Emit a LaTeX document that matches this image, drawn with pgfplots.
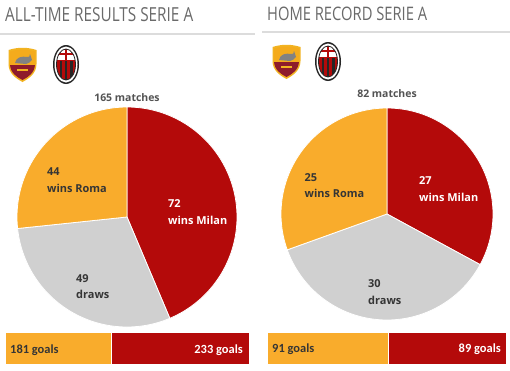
\documentclass[border=0pt]{standalone}
\usepackage{pgfplots}
\pgfplotsset{compat=1.18}
\usepgfplotslibrary{polar}
\usepackage{graphicx}
\usepackage{fontspec}
\setmainfont{Open Sans}
\newfontfamily\goalsfont{Carlito}
\definecolor{roma}{HTML}{F9AC2C}
\definecolor{milan}{HTML}{B40A0A}
\definecolor{drawgray}{HTML}{D0D0D0}
\definecolor{txt}{HTML}{353535}
\definecolor{titlegray}{HTML}{6A6A6A}
\definecolor{rulegray}{HTML}{DCDCDC}
\definecolor{romared}{HTML}{8E1B2B}
\definecolor{romagold}{HTML}{F2B321}

% ---- data ----
\def\AMilan{72}\def\ADraws{49}\def\ARoma{44}
\def\HMilan{27}\def\HDraws{30}\def\HRoma{25}
\def\AGRoma{181}\def\AGMilan{233}
\def\HGRoma{91}\def\HGMilan{89}

\pgfmathsetmacro\ATot{\AMilan+\ADraws+\ARoma}
\pgfmathsetmacro\Aa{90-\AMilan/\ATot*360}
\pgfmathsetmacro\Ab{\Aa-\ADraws/\ATot*360}
\pgfmathsetmacro\HTot{\HMilan+\HDraws+\HRoma}
\pgfmathsetmacro\Ha{90-\HMilan/\HTot*360}
\pgfmathsetmacro\Hb{\Ha-\HDraws/\HTot*360}
\pgfmathsetmacro\AGTot{\AGRoma+\AGMilan}
\pgfmathsetmacro\HGTot{\HGRoma+\HGMilan}

\newcommand\romalogo[2]{%
\begin{scope}[shift={(#1,#2)}]
\fill[romagold] (0.5,3) .. controls (10,0) and (19,0) .. (28.5,3) -- (28.5,17) .. controls (28.5,27) and (20,32) .. (14.5,35) .. controls (9,32) and (0.5,27) .. (0.5,17) -- cycle;
\begin{scope}
\clip (2,4.5) .. controls (10,2) and (19,2) .. (27,4.5) -- (27,17) .. controls (27,26) and (19.5,30.5) .. (14.5,33) .. controls (9.5,30.5) and (2,26) .. (2,17) -- cycle;
\fill[romagold!85!orange] (0,0) rectangle (29,18);
\fill[romared] (0,18) rectangle (29,36);
\fill[gray!60!black!70] (7,16) .. controls (8,10) and (14,9) .. (19,10) .. controls (21,11) and (22,9) .. (22,7) -- (24,13) .. controls (22,15) and (20,17) .. (18,17) -- cycle;
\fill[romagold] (9,21.5) rectangle (20,23.5);
\end{scope}
\end{scope}}

\newcommand\milanlogo[2]{%
\begin{scope}[shift={(#1,#2)}]
\fill[black!85] (13,19.5) ellipse [x radius=13, y radius=19.5];
\fill[white] (13,19.5) ellipse [x radius=11.5, y radius=18];
\begin{scope}
\clip (13,19.5) ellipse [x radius=9.5, y radius=15.5];
\fill[milan] (0,0) rectangle (26,39);
\fill[black!85] (6.5,16) rectangle (9,39);
\fill[black!85] (11.8,16) rectangle (14.2,39);
\fill[black!85] (17,16) rectangle (19.5,39);
\fill[white] (0,0) rectangle (26,15);
\fill[milan] (11.8,0) rectangle (14.2,15);
\fill[milan] (0,8) rectangle (26,10.2);
\end{scope}
\draw[black!85, line width=0.8bp] (13,19.5) ellipse [x radius=9.5, y radius=15.5];
\end{scope}}

\begin{document}
\begin{tikzpicture}
\fill[white] (0,0) rectangle (510bp,-371bp);
\path[use as bounding box] (0,0) rectangle (510bp,-371bp);

\begin{scope}[x=1bp,y=-1bp]
\draw[rulegray, line width=1.5bp] (0,34) -- (255,34);
\draw[rulegray, line width=1.5bp] (262,32) -- (510,32);
\node[anchor=north west, inner sep=0, text=titlegray] at (5,7.5) {\resizebox{188bp}{14bp}{ALL-TIME RESULTS SERIE A}};
\node[anchor=north west, inner sep=0, text=titlegray] at (267,7) {\resizebox{160bp}{13.5bp}{HOME RECORD SERIE A}};
\romalogo{8}{47}
\milanlogo{53}{45}
\romalogo{272}{44}
\milanlogo{315}{42}
\end{scope}

% ---- pie 1 ----
\begin{polaraxis}[at={(127bp,-217bp)}, anchor=center, scale only axis,
  width=220bp, height=220bp, hide axis, ymin=0, ymax=1, clip=false]
\addplot[fill=milan, draw=white, line width=0.8bp, domain=\Aa:90, samples=150] {1} -- (axis cs:0,0) -- cycle;
\addplot[fill=drawgray, draw=white, line width=0.8bp, domain=\Ab:\Aa, samples=150] {1} -- (axis cs:0,0) -- cycle;
\addplot[fill=roma, draw=white, line width=0.8bp, domain=-270:\Ab, samples=150] {1} -- (axis cs:0,0) -- cycle;
\end{polaraxis}

% ---- pie 2 ----
\begin{polaraxis}[at={(387bp,-214bp)}, anchor=center, scale only axis,
  width=212bp, height=212bp, hide axis, ymin=0, ymax=1, clip=false]
\addplot[fill=milan, draw=white, line width=0.8bp, domain=\Ha:90, samples=150] {1} -- (axis cs:0,0) -- cycle;
\addplot[fill=drawgray, draw=white, line width=0.8bp, domain=\Hb:\Ha, samples=150] {1} -- (axis cs:0,0) -- cycle;
\addplot[fill=roma, draw=white, line width=0.8bp, domain=-270:\Hb, samples=150] {1} -- (axis cs:0,0) -- cycle;
\end{polaraxis}

% ---- goals bars ----
\begin{axis}[at={(5bp,-364bp)}, anchor=south west, scale only axis,
  width=244bp, height=32bp, xbar stacked, bar width=32bp,
  xmin=0, xmax=\AGTot, ymin=-0.5, ymax=0.5, hide axis, clip=false]
\addplot[fill=roma, draw=white, line width=0.6bp] coordinates {(\AGRoma,0)};
\addplot[fill=milan, draw=white, line width=0.6bp] coordinates {(\AGMilan,0)};
\end{axis}
\begin{axis}[at={(267bp,-364bp)}, anchor=south west, scale only axis,
  width=239bp, height=32bp, xbar stacked, bar width=32bp,
  xmin=0, xmax=\HGTot, ymin=-0.5, ymax=0.5, hide axis, clip=false]
\addplot[fill=roma, draw=white, line width=0.6bp] coordinates {(\HGRoma,0)};
\addplot[fill=milan, draw=white, line width=0.6bp] coordinates {(\HGMilan,0)};
\end{axis}

\begin{scope}[x=1bp,y=-1bp, every node/.style={inner sep=0}]
\tikzset{lab/.style={font=\bfseries\fontsize{11}{13}\selectfont}}
\node[lab, text=txt!85!white, anchor=base, font=\bfseries\fontsize{10.5}{12}\selectfont] at (127,101) {165 matches};
\node[lab, text=txt!85!white, anchor=base, font=\bfseries\fontsize{10.5}{12}\selectfont] at (387,97) {82 matches};
% pie 1 labels
\node[lab, text=txt, anchor=base west] at (47,175) {\ARoma};
\node[lab, text=txt, anchor=base west] at (47,192) {wins Roma};
\node[lab, text=white, anchor=base west] at (168,207.5) {\AMilan};
\node[lab, text=white, anchor=base west] at (168,224.5) {wins Milan};
\node[lab, text=txt, anchor=base west] at (76,282) {\ADraws};
\node[lab, text=txt, anchor=base west] at (76,298.5) {draws};
% pie 2 labels
\node[lab, text=txt, anchor=base west] at (304.5,181) {\HRoma};
\node[lab, text=txt, anchor=base west] at (304.5,197.5) {wins Roma};
\node[lab, text=white, anchor=base west] at (419,184.5) {\HMilan};
\node[lab, text=white, anchor=base west] at (419,201.5) {wins Milan};
\node[lab, text=txt, anchor=base west] at (368,287.5) {\HDraws};
\node[lab, text=txt, anchor=base west] at (368,304.5) {draws};
% goals
\tikzset{gl/.style={font=\goalsfont\bfseries\fontsize{12.5}{14}\selectfont}}
\node[gl, text=txt, anchor=base west] at (10,353) {\AGRoma{} goals};
\node[gl, text=white, anchor=base east] at (243,353) {\AGMilan{} goals};
\node[gl, text=txt, anchor=base west] at (272,352) {\HGRoma{} goals};
\node[gl, text=white, anchor=base east] at (501,352) {\HGMilan{} goals};
\end{scope}
\end{tikzpicture}
\end{document}
